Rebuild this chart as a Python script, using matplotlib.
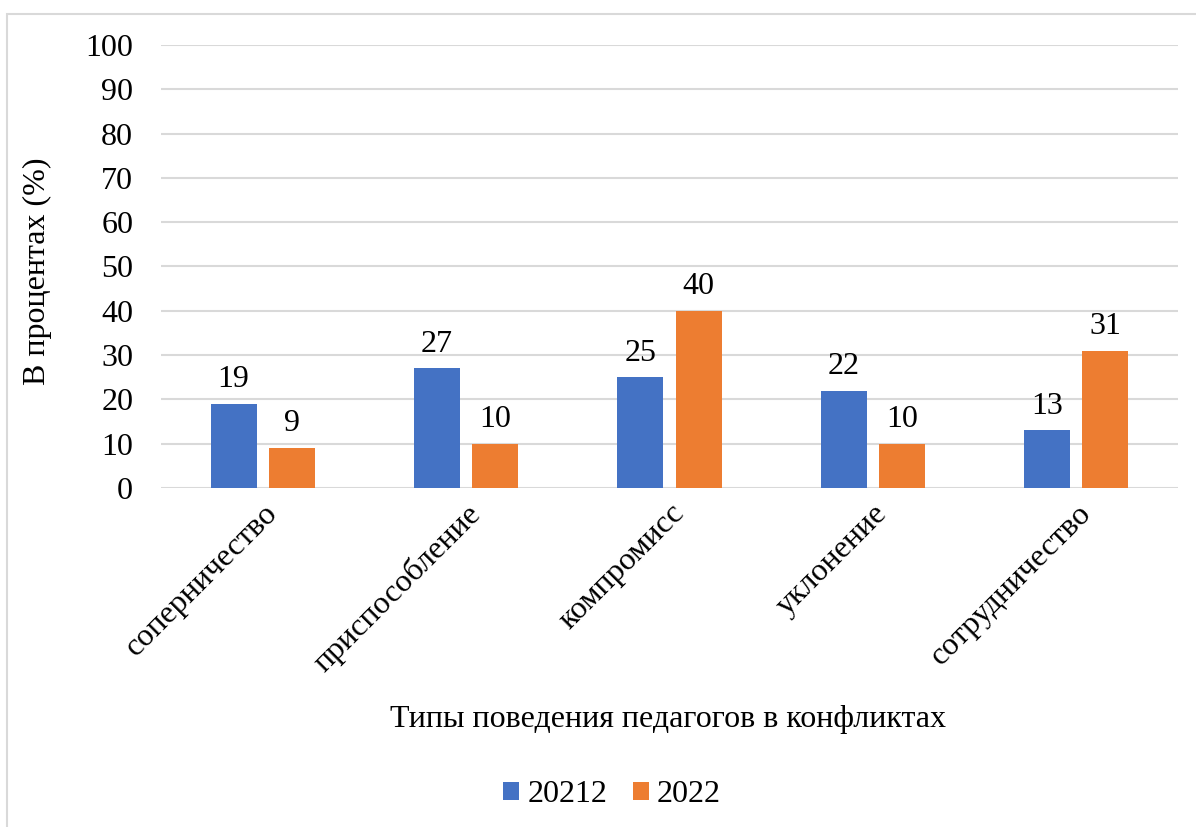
import matplotlib
matplotlib.use("Agg")
import matplotlib.pyplot as plt
import numpy as np
from matplotlib.patches import Rectangle

categories = ["соперничество", "приспособление", "компромисс", "уклонение", "сотрудничество"]
series_names = ["20212", "2022"]
values_a = [19, 27, 25, 22, 13]
values_b = [9, 10, 40, 10, 31]
y_ticks = [0, 10, 20, 30, 40, 50, 60, 70, 80, 90, 100]

plt.rcParams['font.family'] = ['Liberation Serif', 'DejaVu Serif']
FS = 23

W, H = 1196, 827
fig = plt.figure(figsize=(W / 100, H / 100), dpi=100)
ax = fig.add_axes([161 / W, 1 - 488 / H, (1178 - 161) / W, (488 - 45) / H])

x = np.arange(len(categories))
bw = 0.226
off = 0.143
blue = "#4472C4"
orange = "#ED7D31"
b1 = ax.bar(x - off, values_a, bw, color=blue, label=series_names[0], zorder=3)
b2 = ax.bar(x + off, values_b, bw, color=orange, label=series_names[1], zorder=3)

for bars, vals in ((b1, values_a), (b2, values_b)):
    for rect, v in zip(bars, vals):
        ax.annotate(str(v), (rect.get_x() + rect.get_width() / 2, v),
                    xytext=(0, 7), textcoords="offset points",
                    ha="center", va="bottom", fontsize=FS)

ax.set_xlim(-0.5, len(categories) - 0.5)
ax.set_ylim(0, 100)
ax.set_yticks(y_ticks)
ax.set_yticklabels([str(t) for t in y_ticks], fontsize=FS)
ax.yaxis.grid(True, color="#d9d9d9", linewidth=1.5, zorder=0)
ax.set_axisbelow(True)
for s in ax.spines.values():
    s.set_visible(False)
ax.tick_params(axis="both", length=0)
ax.tick_params(axis="y", pad=20)

ax.set_xticks(x)
ax.set_xticklabels(categories, rotation=45, ha="right", rotation_mode="anchor", fontsize=FS)
ax.tick_params(axis="x", pad=8)

fig.text(37 / W, 1 - 271 / H, "В процентах (%)", rotation=90,
         ha="center", va="center", fontsize=FS)
fig.text(668 / W, 1 - 720 / H, "Типы поведения педагогов в конфликтах",
         ha="center", va="center", fontsize=FS)

leg = fig.legend(handles=[b1, b2], labels=series_names, loc="center",
                 bbox_to_anchor=(612 / W, 1 - 795 / H), ncol=2, frameon=False,
                 fontsize=FS, handlelength=0.5, handleheight=0.5, handletextpad=0.25,
                 columnspacing=0.8)

fig.patches.append(Rectangle((7 / W, -0.05), 1.1, 1 - 14 / H + 0.05, transform=fig.transFigure,
                             fill=False, edgecolor="#d9d9d9", linewidth=1.5))

fig.savefig("out.png", dpi=100)
